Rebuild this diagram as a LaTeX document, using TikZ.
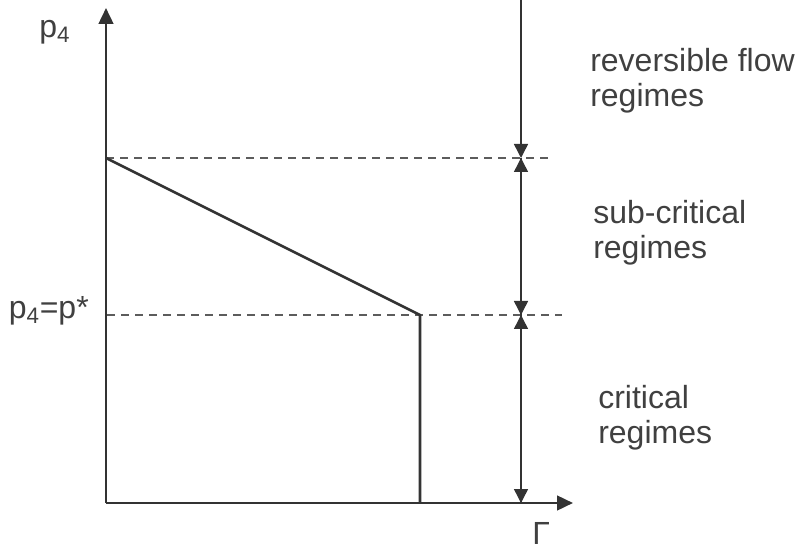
\documentclass[tikz,border=0pt]{standalone}
\usepackage{fontspec}
\setmainfont{Liberation Sans}
\usetikzlibrary{arrows.meta}
\definecolor{ink}{HTML}{333333}
\definecolor{txt}{HTML}{404040}
\tikzset{
  axisline/.style={line width=1.9pt, draw=ink, -{Triangle[length=12pt,width=11pt]}},
  curveline/.style={line width=1.9pt, draw=ink},
  guideline/.style={line width=0.8pt, draw=ink!80, dash pattern=on 6pt off 4.5pt},
  rangearrow/.style={line width=1.1pt, draw=ink, -{Triangle[length=10.5pt,width=10.5pt]}},
  lbl/.style={text=txt, font=\fontsize{24}{26}\selectfont, inner sep=0pt},
  regime/.style={lbl, align=left, anchor=west}
}
\begin{document}
\begin{tikzpicture}[x=0.75pt,y=-0.75pt]
\useasboundingbox (0,0) rectangle (799,548);
% coordinates
\coordinate (O) at (106,503);
\coordinate (Ytop) at (106,8);
\coordinate (Xend) at (573,503);
\coordinate (A) at (106,158);
\coordinate (B) at (420,315);
\coordinate (C) at (420,503);
\coordinate (D1) at (553,158);
\coordinate (L2) at (107,315);
\coordinate (D2) at (562,315);
\coordinate (R0) at (521,0);
\coordinate (R1) at (521,158);
\coordinate (R2) at (521,315);
\coordinate (R3) at (521,503);
% dashed guides
\draw[guideline] (A) -- (D1);
\draw[guideline] (L2) -- (D2);
% axes
\draw[axisline] (O) -- (Ytop);
\draw[axisline] (O) -- (Xend);
% curve
\draw[curveline, line join=miter] (A) -- (B) -- (C);
% range arrows
\draw[rangearrow] (R0) -- (R1);
\draw[rangearrow] (R2) -- (R1);
\draw[rangearrow] (R1) -- (R2);
\draw[rangearrow] (R3) -- (R2);
\draw[rangearrow] (R2) -- (R3);
% labels
\node[lbl, anchor=base west] (py) at (39,38) {p\textsubscript{4}};
\node[lbl, anchor=base east] (pstar) at (89,319) {p\textsubscript{4}=p*};
\node[lbl, anchor=base west] (gam) at (532,544) {Γ};
\node[regime] (rev) at (590,81) {reversible flow\\regimes};
\node[regime] (sub) at (593,233) {sub-critical\\regimes};
\node[regime] (crit) at (598,418) {critical\\regimes};
\end{tikzpicture}
\end{document}
